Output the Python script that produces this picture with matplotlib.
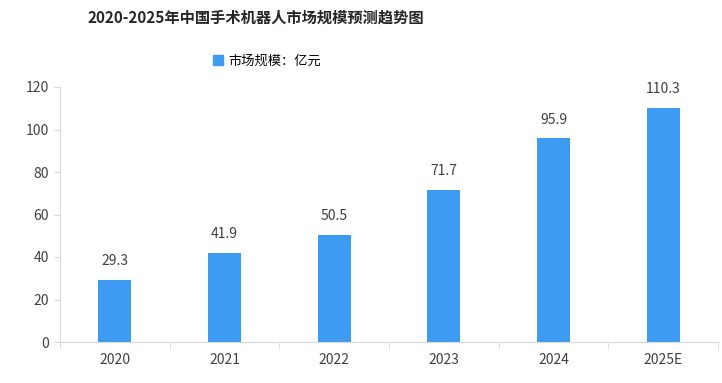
import matplotlib
matplotlib.use('Agg')
import matplotlib.pyplot as plt
from matplotlib.patches import Patch

plt.rcParams['font.family'] = ['Noto Sans CJK SC', 'DejaVu Sans']

years = ['2020', '2021', '2022', '2023', '2024', '2025E']
market_size = [29.3, 41.9, 50.5, 71.7, 95.9, 110.3]
title = '2020-2025年中国手术机器人市场规模预测趋势图'
legend_label = '市场规模：亿元'

bar_color = '#3E9BF2'
axis_color = '#D9D9D9'
text_color = '#404040'

fig = plt.figure(figsize=(7.22, 3.83), dpi=100)
ax = fig.add_axes([60 / 722, 41 / 383, 658 / 722, 255 / 383])

x = range(len(years))
ax.bar(x, market_size, width=0.3, color=bar_color)
for xi, v in zip(x, market_size):
    ax.text(xi, v + 5.5, f'{v}', ha='center', va='bottom', fontsize=10, color=text_color)

ax.set_xlim(-0.5, len(years) - 0.5)
ax.set_ylim(0, 120)
ax.set_yticks(range(0, 121, 20))
ax.set_xticks(list(x))
ax.set_xticklabels(years)
ax.set_xticks([i - 0.5 for i in range(len(years) + 1)], minor=True)
ax.tick_params(axis='x', which='major', length=0, pad=8, labelsize=10, labelcolor=text_color)
ax.tick_params(axis='x', which='minor', length=5, color=axis_color)
ax.tick_params(axis='y', length=4, color=axis_color, labelsize=10, labelcolor=text_color, pad=4)

for side in ['top', 'right']:
    ax.spines[side].set_visible(False)
for side in ['left', 'bottom']:
    ax.spines[side].set_color(axis_color)

fig.text(256 / 722, 1 - 18 / 383, title, ha='center', va='center', fontsize=11,
         fontweight='bold', color='#262626')
fig.legend(handles=[Patch(color=bar_color, label=legend_label)], loc='center',
           bbox_to_anchor=(267 / 722, 1 - 61 / 383), frameon=False, fontsize=9.5,
           handlelength=0.7, handleheight=0.7, handletextpad=0.4)

fig.savefig('out.png', dpi=100, facecolor='white')
